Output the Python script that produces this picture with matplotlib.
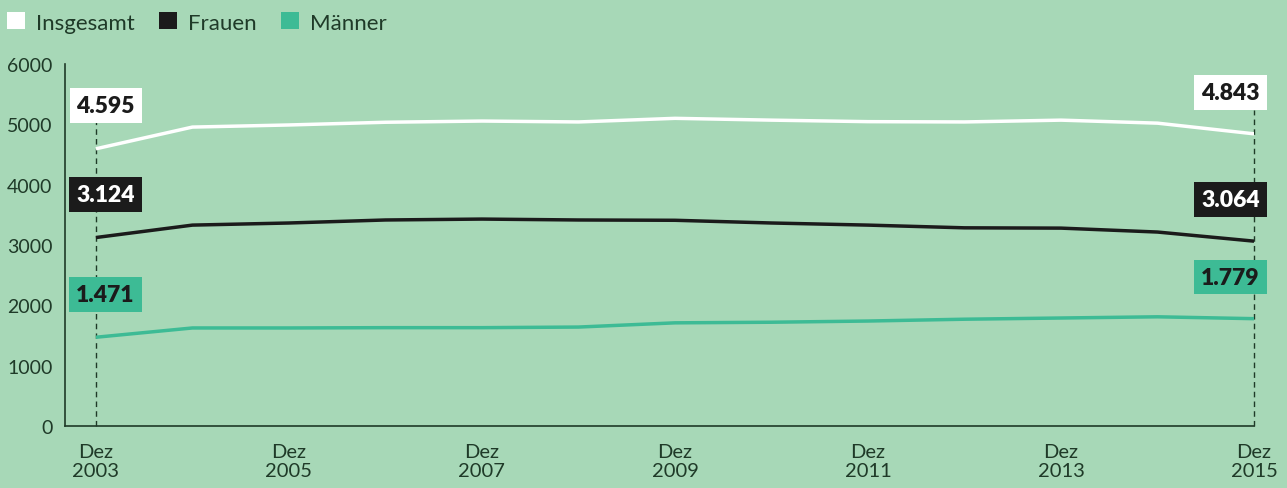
import matplotlib
matplotlib.use("Agg")
import matplotlib.pyplot as plt
from matplotlib.patches import Rectangle

years = [2003, 2004, 2005, 2006, 2007, 2008, 2009, 2010, 2011, 2012, 2013, 2014, 2015]
insgesamt = [4595, 4955, 4990, 5035, 5055, 5040, 5100, 5070, 5045, 5040, 5070, 5020, 4843]
frauen = [3124, 3330, 3365, 3415, 3430, 3415, 3410, 3365, 3330, 3285, 3280, 3215, 3064]
maenner = [1471, 1625, 1625, 1630, 1630, 1640, 1710, 1720, 1740, 1770, 1790, 1810, 1779]
series_names = ["Insgesamt", "Frauen", "Männer"]
tick_years = [2003, 2005, 2007, 2009, 2011, 2013, 2015]
tick_labels = ["Dez\n%d" % y for y in tick_years]
yticks = [0, 1000, 2000, 3000, 4000, 5000, 6000]

def fmt(v):
    return f"{v:,}".replace(",", ".")

BG = "#a7d8b7"
WHITE = "#ffffff"
BLACK = "#1b1b1b"
TEAL = "#3dbb95"
DARK = "#1f3a28"

plt.rcParams['font.family'] = ['Lato', 'DejaVu Sans']

fig = plt.figure(figsize=(12.87, 4.89), dpi=100, facecolor=BG)
ax = fig.add_axes([0.0505, 0.1268, 0.9239, 0.7402])
ax.set_facecolor(BG)

colors = [WHITE, BLACK, TEAL]
data = [insgesamt, frauen, maenner]
for vals, c in zip(data, colors):
    ax.plot(years, vals, color=c, lw=2.5, solid_capstyle='butt', zorder=3)

ax.set_xlim(2002.68, 2015)
ax.set_ylim(0, 6000)
for xv, top in ((years[0], insgesamt[0] + 470), (years[-1], insgesamt[-1] + 400)):
    ax.vlines(xv, 0, top, color=DARK, lw=1, linestyles=(0, (4, 3)), zorder=2, clip_on=False)

ax.spines['top'].set_visible(False)
ax.spines['right'].set_visible(False)
ax.spines['left'].set_color(DARK)
ax.spines['bottom'].set_color(DARK)
ax.spines['left'].set_linewidth(1.2)
ax.spines['bottom'].set_linewidth(1.2)
ax.set_yticks(yticks)
ax.set_yticklabels([str(v) for v in yticks])
ax.set_xticks(tick_years)
ax.set_xticklabels(tick_labels, linespacing=1.2)
ax.tick_params(length=0, colors=DARK, labelsize=14.5)
ax.tick_params(axis='x', pad=12)
ax.tick_params(axis='y', pad=9, labelsize=14)

txtcolors = [BLACK, WHITE, BLACK]
for vals, c, tc in zip(data, colors, txtcolors):
    ax.annotate(fmt(vals[0]), (years[0], vals[0]), xytext=(7, 31), textcoords='offset points',
                ha='center', va='center', fontsize=16.5, fontweight='heavy', color=tc,
                bbox=dict(boxstyle='square,pad=0.3', fc=c, ec='none'), zorder=5)
    ax.annotate(fmt(vals[-1]), (years[-1], vals[-1]), xytext=(-17, 30), textcoords='offset points',
                ha='center', va='center', fontsize=16.5, fontweight='heavy', color=tc,
                bbox=dict(boxstyle='square,pad=0.3', fc=c, ec='none'), zorder=5)

# legend
handles = [Rectangle((0, 0), 1, 1, fc=c, ec='none') for c in colors]
fig.legend(handles, series_names, loc='upper left', bbox_to_anchor=(-0.005, 1.0), ncol=3,
           frameon=False, fontsize=16, handlelength=0.8, handleheight=0.8,
           handletextpad=0.5, columnspacing=1.1, labelcolor=DARK, borderaxespad=0.2)

fig.savefig("out.png", dpi=100, facecolor=BG)
